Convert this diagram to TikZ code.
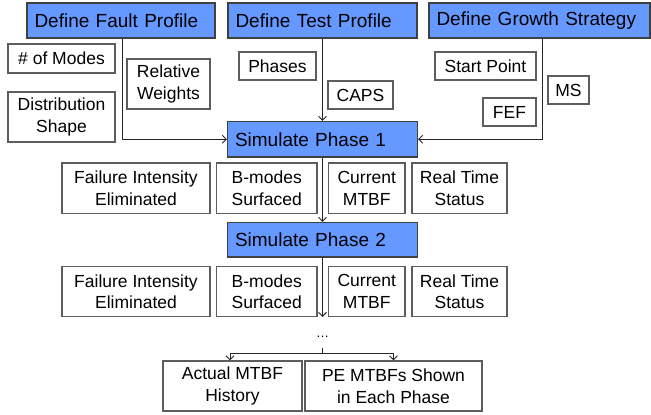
\documentclass[tikz,border=0pt]{standalone}
\usepackage{fontspec}
\setmainfont{Liberation Sans}
\usetikzlibrary{arrows.meta}
\definecolor{boxblue}{RGB}{102,153,255}
\definecolor{edgegray}{RGB}{64,64,64}
\tikzset{
  bluebox/.style={draw=edgegray, fill=boxblue, line width=1.2pt, inner xsep=7.5pt, inner ysep=0pt,
    align=left, minimum height=35pt, font=\fontsize{19}{23}\selectfont},
  whitebox/.style={draw=edgegray!85, fill=white, line width=1.2pt, inner sep=0pt, align=center,
    font=\fontsize{17.5}{21.5}\selectfont},
  conn/.style={draw=black!85, line width=0.9pt, -{Straight Barb[length=4pt,width=8pt]}},
  plainconn/.style={draw=black!85, line width=0.9pt}
}
\begin{document}
\begin{tikzpicture}[x=1pt,y=-1pt]
\useasboundingbox (0,0) rectangle (651,415);
% top blue boxes
\node[bluebox, text width=173pt] (fault) at (121,20.5) {Define Fault Profile};
\node[bluebox, text width=174pt] (test) at (322.5,20.5) {Define Test Profile};
\node[bluebox, text width=206pt] (growth) at (539.5,20.5) {Define Growth Strategy};
% parameter boxes
\node[whitebox, minimum width=107pt, minimum height=29pt] (modes) at (61.5,58.5) {\# of Modes};
\node[whitebox, minimum width=107pt, minimum height=50pt] (dist) at (61.5,117) {Distribution\\Shape};
\node[whitebox, minimum width=83pt, minimum height=50pt] (relw) at (168.5,84) {Relative\\Weights};
\node[whitebox, minimum width=77pt, minimum height=28pt] (phases) at (277.5,66) {Phases};
\node[whitebox, minimum width=65pt, minimum height=28pt] (caps) at (360.5,95) {CAPS};
\node[whitebox, minimum width=101pt, minimum height=28pt] (start) at (485.5,66) {Start Point};
\node[whitebox, minimum width=53pt, minimum height=28pt] (fef) at (509.5,112) {FEF};
\node[whitebox, minimum width=41pt, minimum height=28pt] (ms) at (568.5,90) {MS};
% phase 1
\node[bluebox, text width=175pt, minimum height=35.5pt] (sim1) at (322.5,139.25) {Simulate Phase 1};
\node[whitebox, minimum width=148pt, minimum height=50.5pt] (fi1) at (136,188.25) {Failure Intensity\\Eliminated};
\node[whitebox, minimum width=100.5pt, minimum height=50.5pt] (bm1) at (266.75,188.25) {B-modes\\Surfaced};
\node[whitebox, minimum width=76.5pt, minimum height=50.5pt] (cm1) at (366.75,188.25) {Current\\MTBF};
\node[whitebox, minimum width=95pt, minimum height=50.5pt] (rt1) at (459.5,188.25) {Real Time\\Status};
% phase 2
\node[bluebox, text width=175pt, minimum height=34.5pt] (sim2) at (322.5,239.75) {Simulate Phase 2};
\node[whitebox, minimum width=148pt, minimum height=50.2pt] (fi2) at (136,291.6) {Failure Intensity\\Eliminated};
\node[whitebox, minimum width=100.5pt, minimum height=50.2pt] (bm2) at (266.75,291.6) {B-modes\\Surfaced};
\node[whitebox, minimum width=76.5pt, minimum height=50.2pt] (cm2) at (366.75,291.6) {Current\\MTBF};
\node[whitebox, minimum width=95pt, minimum height=50.2pt] (rt2) at (459.5,291.6) {Real Time\\Status};
\coordinate (e2) at (322.5,317);
% continuation
\node[inner sep=0pt, minimum height=22pt, font=\fontsize{13}{15}\selectfont] (dots) at (322.5,337) {\ldots};
\coordinate (j) at (322.5,353);
\node[whitebox, minimum width=139pt, minimum height=50pt] (act) at (232.5,386) {Actual MTBF\\History};
\node[whitebox, minimum width=177pt, minimum height=50pt] (pe) at (393.5,386) {PE MTBFs Shown\\in Each Phase};
% connectors
\draw[conn] ([xshift=1pt]fault.south) |- (sim1.west);
\draw[conn] (test.south) -- (sim1.north);
\draw[conn] ([xshift=2.5pt]growth.south) |- (sim1.east);
\draw[conn] (sim1.south) -- (sim2.north);
\draw[conn] (sim2.south) -- (e2);
\draw[plainconn] (dots.south) -- (j);
\draw[conn] (j) -| ([xshift=-2.5pt]act.north);
\draw[conn] (j) -| (pe.north);
\end{tikzpicture}
\end{document}
